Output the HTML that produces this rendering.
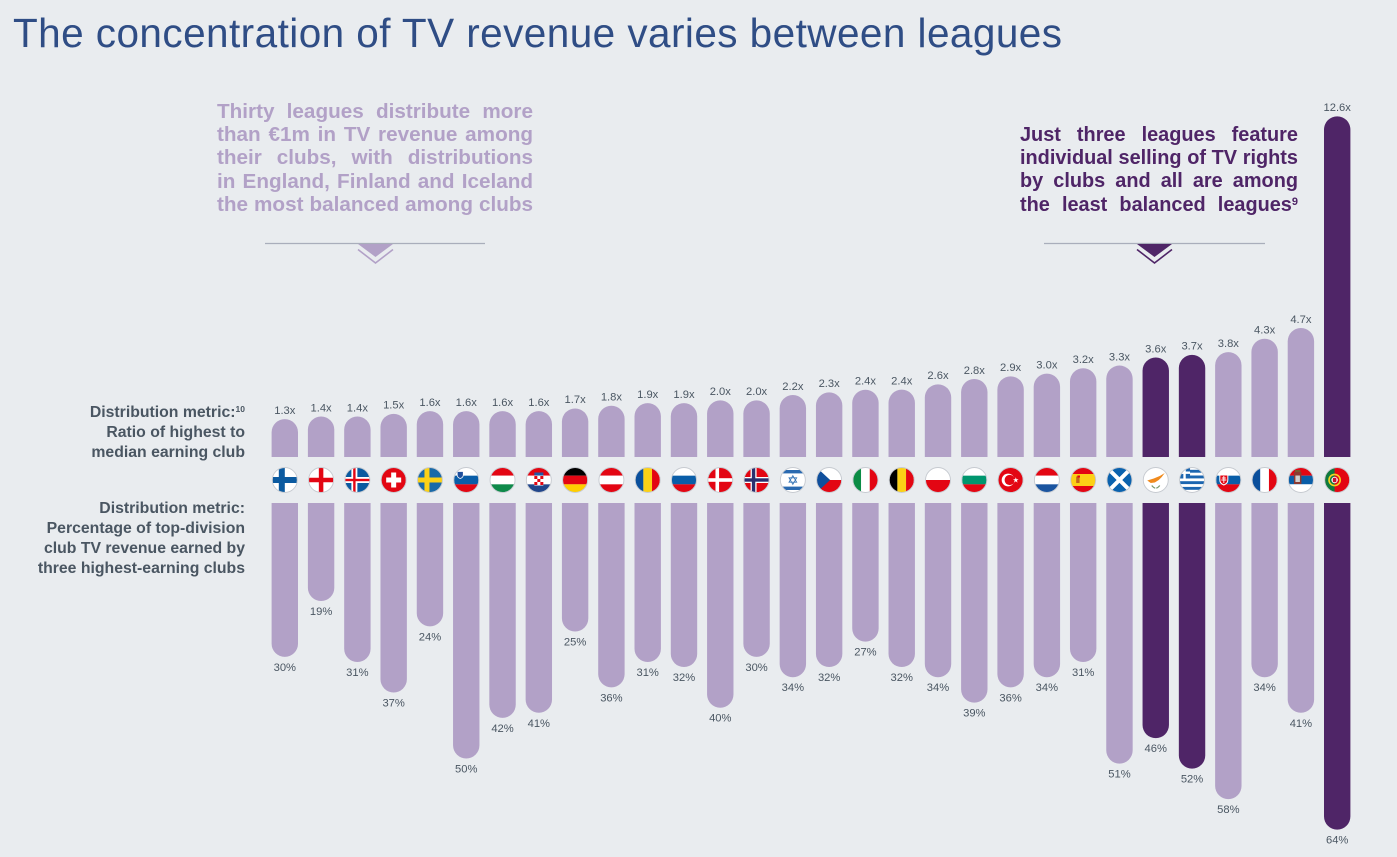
<!DOCTYPE html>
<html lang="en">
<head>
<meta charset="utf-8">
<title>The concentration of TV revenue varies between leagues</title>
<style>
html,body{margin:0;padding:0;background:#e9ecef}
#page{position:relative;width:1397px;height:857px;overflow:hidden;background:#e9ecef;font-family:"Liberation Sans",sans-serif}
#chart{position:absolute;left:0;top:0}
.para{position:absolute;font-weight:bold;line-height:23.4px}
.para div{text-align:justify;text-align-last:justify;white-space:nowrap}
.para sup{font-size:11px;line-height:0;vertical-align:6px}
.side{position:absolute;left:0;width:245px;text-align:right;font-weight:bold;font-size:15.8px;line-height:20px;color:#4a5662;white-space:nowrap}
.side sup{font-size:8.5px;line-height:0;vertical-align:5px}
</style>
</head>
<body>
<div id="page">
<svg id="chart" width="1397" height="857" viewBox="0 0 1397 857" xmlns="http://www.w3.org/2000/svg">
  <defs><clipPath id="flag-clip"><circle cx="0" cy="0" r="12.2"/></clipPath></defs>
  <text x="13" y="47" font-family="Liberation Sans, sans-serif" font-size="40.5" fill="#2f4d85" textLength="1049" lengthAdjust="spacing">The concentration of TV revenue varies between leagues</text>
  <g>
    <line x1="265" y1="243.5" x2="485" y2="243.5" stroke="#a9aebb" stroke-width="1.2"/>
    <polygon points="358,244 393,244 375.5,257" fill="#b2a1c7"/>
    <polyline points="358,249.5 375.5,263 393,249.5" fill="none" stroke="#b2a1c7" stroke-width="1.6"/>
  </g>
  <g>
    <line x1="1044" y1="243.5" x2="1265" y2="243.5" stroke="#a9aebb" stroke-width="1.2"/>
    <polygon points="1137,244 1172,244 1154.5,257" fill="#4f2567"/>
    <polyline points="1137,249.5 1154.5,263 1172,249.5" fill="none" stroke="#4f2567" stroke-width="1.6"/>
  </g>
  <g id="bars-top"></g>
  <g id="bars-bottom"></g>
  <g id="flags"></g>
</svg>

<div class="para" style="left:217px;top:99.5px;width:316px;color:#b2a1c7;font-size:20.7px">
  <div>Thirty leagues distribute more</div>
  <div>than €1m in TV revenue among</div>
  <div>their clubs, with distributions</div>
  <div>in England, Finland and Iceland</div>
  <div>the most balanced among clubs</div>
</div>
<div class="para" style="left:1020px;top:123.5px;width:278px;color:#4f2567;font-size:19.9px">
  <div>Just three leagues feature</div>
  <div>individual selling of TV rights</div>
  <div>by clubs and all are among</div>
  <div>the least balanced leagues<sup>9</sup></div>
</div>
<div class="side" style="top:403px">
  Distribution metric:<sup>10</sup><br>Ratio of highest to<br>median earning club
</div>
<div class="side" style="top:499px">
  Distribution metric:<br>Percentage of top-division<br>club TV revenue earned by<br>three highest-earning clubs
</div>
</div>

<script>
const leagues = ["finland","england","iceland","switzerland","sweden","slovenia","hungary","croatia","germany","austria","romania","russia","denmark","norway","israel","czechia","italy","belgium","poland","bulgaria","turkey","netherlands","spain","scotland","cyprus","greece","slovakia","france","serbia","portugal"];
const ratioValues = [1.3,1.4,1.4,1.5,1.6,1.6,1.6,1.6,1.7,1.8,1.9,1.9,2.0,2.0,2.2,2.3,2.4,2.4,2.6,2.8,2.9,3.0,3.2,3.3,3.6,3.7,3.8,4.3,4.7,12.6];
const shareValues = [30,19,31,37,24,50,42,41,25,36,31,32,40,30,34,32,27,32,34,39,36,34,31,51,46,52,58,34,41,64];
const individualSelling = ["cyprus","greece","portugal"];

const NS = "http://www.w3.org/2000/svg";
const LIGHT = "#b2a1c7", DARK = "#4f2567", BAR_W = 26.4, R = 13.2;
const xPos = i => 284.8 + i * (1337.2 - 284.8) / (leagues.length - 1);
const ratioLen = v => 3 + v * 26.8;
const shareLen = v => 1.5 + v * 5.08;
const TOP_BASE = 457, BOTTOM_BASE = 503;

function make(tag, parent, attrs) {
  const el = document.createElementNS(NS, tag);
  for (const k in attrs) el.setAttribute(k, attrs[k]);
  parent.appendChild(el);
  return el;
}
function label(parent, x, y, txt) {
  const t = make("text", parent, {x: x, y: y, "text-anchor": "middle", "font-family": "Liberation Sans, sans-serif", "font-size": 11.2, fill: "#4a5662"});
  t.textContent = txt;
  return t;
}

/* flag helpers, drawn in a local box around the origin */
const rect = (x, y, w, h, c) => `<rect x="${x}" y="${y}" width="${w}" height="${h}" fill="${c}"/>`;
const h3 = (a, b, c) => rect(-13,-13,26,8.67,a) + rect(-13,-4.33,26,8.67,b) + rect(-13,4.33,26,8.67,c);
const v3 = (a, b, c) => rect(-13,-13,8.67,26,a) + rect(-4.33,-13,8.67,26,b) + rect(4.33,-13,8.67,26,c);
const cross = (bg, c, cx, t) => rect(-13,-13,26,26,bg) + rect(cx - t/2,-13,t,26,c) + rect(-13,-t/2,26,t,c);
const RED = "#e30613", BLUE = "#0a5ea8", WHITE = "#ffffff";
const flagArt = {
  finland: cross(WHITE, "#0b5aa0", -3, 6),
  england: cross(WHITE, RED, 0, 4.5),
  iceland: cross("#0b5aa0", WHITE, -3, 6) + rect(-4.2,-13,2.4,26,RED) + rect(-13,-1.2,26,2.4,RED),
  switzerland: rect(-13,-13,26,26,RED) + rect(-2.5,-7.5,5,15,WHITE) + rect(-7.5,-2.5,15,5,WHITE),
  sweden: cross("#1a6aa8", "#fcd116", -3, 5),
  slovenia: h3(WHITE, "#0a5ea8", RED) + `<path d="M-9-8.5h6v3.5q0 2.5-3 3.5q-3-1-3-3.5z" fill="#1f4f9c" stroke="#fff" stroke-width=".7"/>`,
  hungary: h3(RED, WHITE, "#0f8a4a"),
  croatia: h3(RED, WHITE, "#21468b") + rect(-4.5,-4,9,9.5,WHITE) + rect(-4.5,-4,3,3,RED) + rect(1.5,-4,3,3,RED) + rect(-1.5,-1,3,3,RED) + rect(-4.5,2,3,3,RED) + rect(1.5,2,3,3,RED) + rect(-4.5,-7.5,9,3,"#1f5aa8"),
  germany: h3("#000000", RED, "#ffce00"),
  austria: h3(RED, WHITE, RED),
  romania: v3("#0a4f9c", "#fcd116", RED),
  russia: h3(WHITE, "#0a5ea8", RED),
  denmark: cross(RED, WHITE, -3, 3.6),
  norway: cross(RED, WHITE, -3, 6) + rect(-4.7,-13,3.4,26,"#2b2f6e") + rect(-13,-1.7,26,3.4,"#2b2f6e"),
  israel: rect(-13,-13,26,26,WHITE) + rect(-13,-10,26,3.4,"#2a6ab0") + rect(-13,6.6,26,3.4,"#2a6ab0") + `<path d="M0-4.3L3.8 2.2H-3.8zM0 4.3L3.8-2.2H-3.8z" fill="none" stroke="#3a78b8" stroke-width=".9"/>`,
  czechia: rect(-13,-13,26,13,WHITE) + rect(-13,0,26,13,RED) + `<polygon points="-13,-13 1,0 -13,13" fill="#0f4f9c"/>`,
  italy: v3("#0b8c45", WHITE, RED),
  belgium: v3("#000000", "#fcd116", RED),
  poland: rect(-13,-13,26,13,WHITE) + rect(-13,0,26,13,RED),
  bulgaria: h3(WHITE, "#00966e", RED),
  turkey: rect(-13,-13,26,26,RED) + `<circle cx="-2.5" cy="0" r="6.4" fill="#fff"/><circle cx="-0.9" cy="0" r="5.1" fill="${RED}"/><polygon points="5.2,-2.8 5.9,-0.8 8,-0.8 6.3,0.5 7,2.6 5.2,1.3 3.4,2.6 4.1,0.5 2.4,-0.8 4.5,-0.8" fill="#fff"/>`,
  netherlands: h3(RED, WHITE, "#1b55a0"),
  spain: rect(-13,-13,26,26,RED) + rect(-13,-6,26,12,"#fcd116") + rect(-7,-3.5,3.4,6.5,"#c4661b") + rect(-5.8,-4.5,2.6,2,RED),
  scotland: rect(-13,-13,26,26,"#0a62ae") + `<path d="M-13-13L13 13M13-13L-13 13" stroke="#fff" stroke-width="4"/>`,
  cyprus: rect(-13,-13,26,26,WHITE) + `<path d="M-8.5 0.5L-2-1.5L4-4L9-7L6-3L3 0L-1 2.5L-5 3z" fill="#f08a1d"/><path d="M-4 5.5q2 2.5 3.5 2.5M4 5.5q-2 2.5-3.5 2.5" fill="none" stroke="#7a9a6e" stroke-width="1.3"/>`,
  greece: rect(-13,-13,26,26,WHITE) + [-10.2,-4.5,1.2,6.9].map(y => rect(-13,y,26,2.9,"#1c66b0")).join("") + rect(-13,-13,11,11.5,"#1c66b0") + rect(-8.7,-13,2.4,11.5,WHITE) + rect(-13,-8.5,11,2.4,WHITE),
  slovakia: h3(WHITE, "#0a5ea8", RED) + `<path d="M-8.5-5h8v5q0 3.5-4 5q-4-1.5-4-5z" fill="${RED}" stroke="#fff" stroke-width="1"/><path d="M-4.5-4v7M-6.5-2h4M-7 0h5" stroke="#fff" stroke-width=".9"/>`,
  france: v3("#0a4f9c", WHITE, RED),
  serbia: h3(RED, "#0a5ea8", WHITE) + rect(-7,-8,7.5,12,"#8b3a32") + rect(-5.5,-4.5,4.5,6.5,"#cfcfcf") + rect(-6,-10,5.5,2,"#7a5a30"),
  portugal: rect(-13,-13,26,26,RED) + rect(-13,-13,10.4,26,"#0f7a3e") + `<circle cx="-2.6" cy="0" r="5.6" fill="none" stroke="#f4d21f" stroke-width="1.6"/><circle cx="-2.6" cy="0" r="3.2" fill="#fff"/><rect x="-4.4" y="-2.2" width="3.6" height="4.4" rx="1" fill="#c8102e"/>`
};

const topG = document.getElementById("bars-top");
const botG = document.getElementById("bars-bottom");
const flagG = document.getElementById("flags");

leagues.forEach((name, i) => {
  const x = xPos(i);
  const fill = individualSelling.includes(name) ? DARK : LIGHT;
  const l = x - BAR_W / 2, r = x + BAR_W / 2;

  const topY = TOP_BASE - ratioLen(ratioValues[i]);
  const barTop = make("path", topG, {fill: fill, d: `M${l} ${TOP_BASE}V${topY + R}A${R} ${R} 0 0 1 ${r} ${topY + R}V${TOP_BASE}Z`});
  
  
  const topLabel = label(topG, x, topY - 5.2, ratioValues[i].toFixed(1) + "x");
  
  

  const botY = BOTTOM_BASE + shareLen(shareValues[i]);
  const barBot = make("path", botG, {fill: fill, d: `M${l} ${BOTTOM_BASE}V${botY - R}A${R} ${R} 0 0 0 ${r} ${botY - R}V${BOTTOM_BASE}Z`});
  
  
  const botLabel = label(botG, x, botY + 14, shareValues[i] + "%");
  
  

  const flag = make("g", flagG, {transform: `translate(${x} 480)`});
  
  
  const art = make("g", flag, {"clip-path": "url(#flag-clip)"});
  art.innerHTML = flagArt[name];
  make("circle", flag, {cx: 0, cy: 0, r: 12.5, fill: "none", stroke: "#c6cad0", "stroke-width": 0.9});
});
</script>
</body>
</html>
